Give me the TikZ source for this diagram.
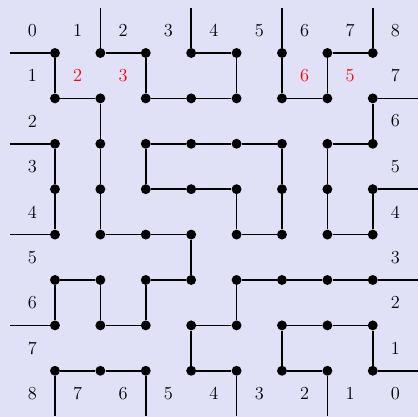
\documentclass[tikz,border=0pt]{standalone}
\usepackage{tikz}
\usepackage{xcolor}
\definecolor{panelbg}{RGB}{224,224,246}

\begin{document}
\begin{tikzpicture}[
  dot/.style={circle, fill, inner sep=0pt, minimum size=6.2pt},
  lbl/.style={font=\fontsize{11.5}{13}\selectfont},
  trail/.style={line width=1.1pt}]
  \fill[panelbg] (-1.211,-8.018) rectangle (7.996,1.167);
  \useasboundingbox (-1.211,-8.018) rectangle (7.996,1.167);

  \foreach \i in {0,...,7}
    \foreach \j in {0,...,7}
      \node[dot] (d\i\j) at (\i,-\j) {};

  \foreach \j in {0,2,4,6} \coordinate (w\j) at (-1,-\j);
  \foreach \j in {1,3,5,7} \coordinate (e\j) at (8,-\j);
  \foreach \i in {1,3,5,7} \coordinate (n\i) at (\i,1);
  \foreach \i in {0,2,4,6} \coordinate (s\i) at (\i,-8);

  \draw[trail] (w0) -- (d00) -- (d01) -- (d11) -- (d12) -- (d13) -- (d14) -- (d24) -- (d34)
    -- (d35) -- (d25) -- (d26) -- (d16) -- (d15) -- (d05) -- (d06) -- (w6);
  \draw[trail] (n1) -- (d10) -- (d20) -- (d21) -- (d31) -- (d41) -- (d40) -- (d30) -- (n3);
  \draw[trail] (n5) -- (d50) -- (d51) -- (d61) -- (d60) -- (d70) -- (n7);
  \draw[trail] (e1) -- (d71) -- (d72) -- (d62) -- (d63) -- (d64) -- (d74) -- (d73) -- (e3);
  \draw[trail] (w2) -- (d02) -- (d03) -- (d04) -- (w4);
  \draw[trail] (d22) -- (d32) -- (d42) -- (d52) -- (d53) -- (d54) -- (d44) -- (d43) -- (d33)
    -- (d23) -- (d22);
  \draw[trail] (e5) -- (d75) -- (d65) -- (d55) -- (d45) -- (d46) -- (d36) -- (d37) -- (d47) -- (s4);
  \draw[trail] (e7) -- (d77) -- (d76) -- (d66) -- (d56) -- (d57) -- (d67) -- (s6);
  \draw[trail] (s0) -- (d07) -- (d17) -- (d27) -- (s2);

  \foreach \k in {0,...,8}
    \node[lbl] (t\k) at (\k-0.5,0.5) {\k};
  \foreach \k in {1,...,7}
    \node[lbl] (l\k) at (-0.5,0.5-\k) {\k};
  \foreach \k [evaluate=\k as \v using int(8-\k)] in {0,...,8}
    \node[lbl] (b\k) at (\k-0.5,-7.5) {\v};
  \foreach \k [evaluate=\k as \v using int(8-\k)] in {1,...,7}
    \node[lbl] (r\k) at (7.5,0.5-\k) {\v};

  \node[lbl, red] (m1) at (0.5,-0.5) {2};
  \node[lbl, red] (m2) at (1.5,-0.5) {3};
  \node[lbl, red] (m3) at (5.5,-0.5) {6};
  \node[lbl, red] (m4) at (6.5,-0.5) {5};
\end{tikzpicture}
\end{document}
